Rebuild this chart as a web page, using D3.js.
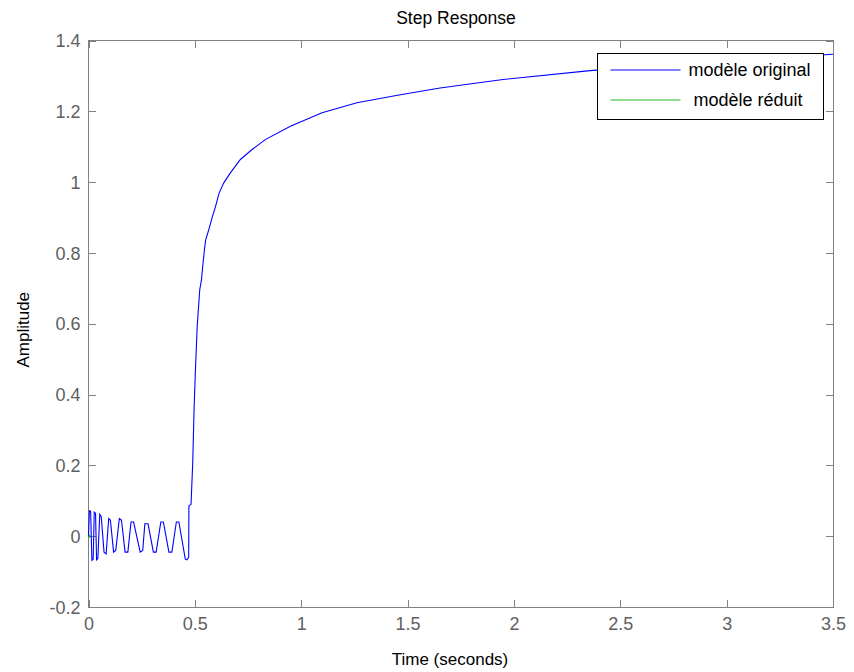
<!DOCTYPE html>
<html><head><meta http-equiv="Content-Type" content="text/html; charset=utf-8">
<script src="https://d3js.org/d3.v7.min.js"></script>
<style>
  body { margin: 0; background: #fff; }
  text { font-family: "Liberation Sans", Arial, sans-serif; }
</style>
</head>
<body>
<div class="chart"></div>
<script type="text/javascript">

// ---------------- DATA ----------------
var chartTitle = "Step Response";
var xLabel = "Time (seconds)";
var yLabel = "Amplitude";
var seriesNames = ["modèle original", "modèle réduit"];

var xTicks = [0, 0.5, 1, 1.5, 2, 2.5, 3, 3.5];
var yTicks = [-0.2, 0, 0.2, 0.4, 0.6, 0.8, 1, 1.2, 1.4];

// original model
var timeOrig = [0, 0.004, 0.010, 0.016, 0.022, 0.027, 0.033, 0.038, 0.044, 0.053,
  0.060, 0.073, 0.083, 0.095, 0.103, 0.118, 0.128, 0.145, 0.155, 0.172,
  0.185, 0.200, 0.212, 0.243, 0.255, 0.265, 0.280, 0.305, 0.318, 0.340,
  0.352, 0.378, 0.392, 0.413, 0.425, 0.455, 0.463, 0.471, 0.472, 0.482,
  0.490, 0.496, 0.503, 0.511, 0.523, 0.531, 0.537, 0.545, 0.551, 0.568,
  0.581, 0.597, 0.614, 0.636, 0.667, 0.714, 0.769, 0.831, 0.949, 1.098,
  1.262, 1.466, 1.653, 1.826, 1.949, 2.358, 2.8, 3.2, 3.5];
var ampOrig = [0, 0.072, 0.070, -0.068, -0.065, 0.068, 0.065, -0.067, -0.063, 0.062,
  0.055, -0.045, -0.050, 0.050, 0.045, -0.045, -0.040, 0.050, 0.045, -0.045,
  -0.045, 0.040, 0.040, -0.045, -0.040, 0.035, 0.035, -0.045, -0.045, 0.040,
  0.040, -0.045, -0.045, 0.040, 0.040, -0.065, -0.067, -0.060, 0.085, 0.090,
  0.207, 0.352, 0.475, 0.592, 0.696, 0.724, 0.762, 0.809, 0.837, 0.871,
  0.900, 0.931, 0.969, 0.998, 1.026, 1.064, 1.092, 1.120, 1.158, 1.196,
  1.224, 1.247, 1.266, 1.280, 1.290, 1.315, 1.335, 1.350, 1.361];

// reduced model
var timeRed = [0, 0.008];
var ampRed = [0, 0];

// ---------------- LAYOUT ----------------
var width = 854, height = 672;
var margin = {top: 40.5, right: 21, bottom: 65, left: 88.5};
var plotW = width - margin.left - margin.right;
var plotH = height - margin.top - margin.bottom;

var svg = d3.select("div.chart")
  .append("svg")
  .attr("width", width)
  .attr("height", height);

var x = d3.scaleLinear().domain([0, 3.5]).range([0, plotW]);
var y = d3.scaleLinear().domain([-0.2, 1.4]).range([plotH, 0]);

var g = svg.append("g")
  .attr("transform", "translate(" + margin.left + "," + margin.top + ")");

var axisColor = "#808080";
var tickTextColor = "#606060";
var plainNum = function (d) { return String(d); };

// axes with inward ticks
var xAxisB = g.append("g").attr("transform", "translate(0," + plotH + ")")
  .call(d3.axisBottom(x).tickValues(xTicks).tickSize(-7).tickFormat(plainNum));
var xAxisT = g.append("g")
  .call(d3.axisTop(x).tickValues(xTicks).tickSize(-7).tickFormat(""));
var yAxisL = g.append("g")
  .call(d3.axisLeft(y).tickValues(yTicks).tickSize(-7).tickFormat(plainNum));
var yAxisR = g.append("g").attr("transform", "translate(" + plotW + ",0)")
  .call(d3.axisRight(y).tickValues(yTicks).tickSize(-7).tickFormat(""));

[xAxisB, xAxisT, yAxisL, yAxisR].forEach(function (a) {
  a.select(".domain").remove();
  a.selectAll("line").attr("stroke", axisColor).attr("shape-rendering", "crispEdges");
  a.selectAll("text").attr("fill", tickTextColor).style("font-size", "18px");
});
xAxisB.selectAll("text").attr("dy", "0.71em").attr("y", 10);
yAxisL.selectAll("text").attr("x", -8).attr("dy", "0.34em");

g.append("rect")
  .attr("width", plotW).attr("height", plotH)
  .attr("fill", "none").attr("stroke", axisColor)
  .attr("shape-rendering", "crispEdges");

// ---------------- LINES ----------------
var line = d3.line()
  .x(function (d) { return x(d[0]); })
  .y(function (d) { return y(d[1]); });

var orig = d3.zip(timeOrig, ampOrig);
var red = d3.zip(timeRed, ampRed);

g.append("path").datum(orig)
  .attr("d", line).attr("fill", "none")
  .attr("stroke", "#0000ff").attr("stroke-width", 1.1);

g.append("path").datum(red)
  .attr("d", line).attr("fill", "none")
  .attr("stroke", "#00b000").attr("stroke-width", 3);

// ---------------- LEGEND ----------------
var legend = svg.append("g").attr("transform", "translate(597.5,53.5)");
legend.append("rect")
  .attr("width", 226).attr("height", 66)
  .attr("fill", "#fff").attr("stroke", "#000")
  .attr("shape-rendering", "crispEdges");
var legColors = ["#0000ff", "#22bb22"];
seriesNames.forEach(function (name, i) {
  var ly = 16.5 + i * 30;
  legend.append("line")
    .attr("x1", 13).attr("x2", 83).attr("y1", ly).attr("y2", ly)
    .attr("stroke", legColors[i]).attr("stroke-width", 1);
  legend.append("text")
    .attr("x", 91 + i * 5).attr("y", ly + 6)
    .style("font-size", "18px").attr("fill", "#000")
    .text(name);
});

// ---------------- LABELS ----------------
svg.append("text")
  .attr("x", 456).attr("y", 24)
  .attr("text-anchor", "middle").style("font-size", "17.5px")
  .text(chartTitle);

svg.append("text")
  .attr("x", 450).attr("y", 665)
  .attr("text-anchor", "middle").style("font-size", "17px")
  .text(xLabel);

svg.append("text")
  .attr("transform", "translate(29," + (margin.top + plotH / 2 + 6) + ")rotate(-90)")
  .attr("text-anchor", "middle").style("font-size", "17px")
  .text(yLabel);

</script>
</body></html>
